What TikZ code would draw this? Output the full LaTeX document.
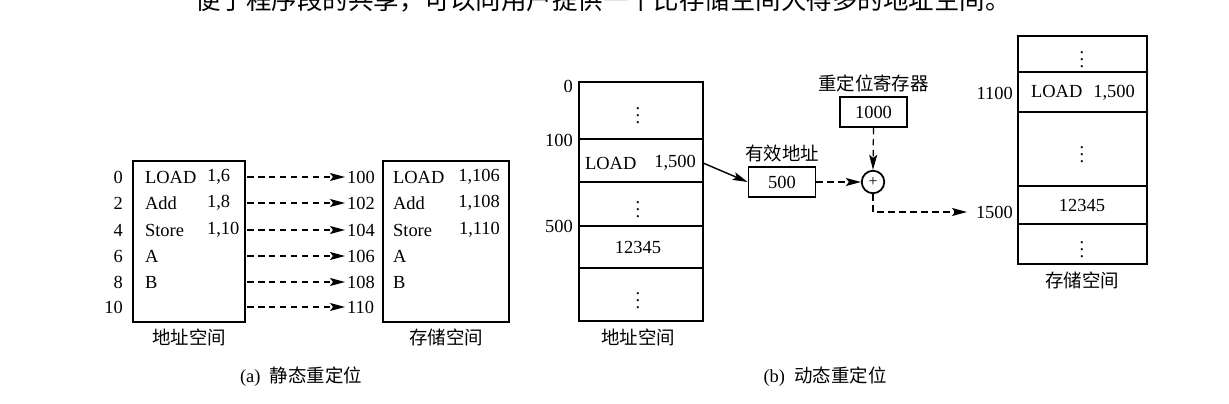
\documentclass[tikz,border=0pt]{standalone}
\usepackage{fontspec}
\setmainfont{Liberation Serif}
\newfontfamily\cjk{Noto Sans CJK SC}
\usetikzlibrary{arrows.meta}
\usetikzlibrary{positioning}

\tikzset{
  membox/.style={draw=black,line width=1pt},
  cjktext/.style={font=\cjk\fontsize{10.5}{12}\selectfont},
  maplink/.style={line width=0.7pt,dash pattern=on 1.3mm off 0.9mm,-{Stealth[length=3mm,width=1.6mm,inset=0.6mm]}},
  eabox/.style={membox,minimum width=1.34cm,minimum height=0.6cm,inner sep=0pt},
  dotrow/.style={inner sep=0pt}
}

\begin{document}
\begin{tikzpicture}[x=0.02cm,y=-0.02cm,every node/.style={font=\fontsize{10.5}{12}\selectfont,inner sep=1pt}]
\useasboundingbox (0,0) rectangle (1229,404);

% body text line, cut off at the top
\node[font=\cjk\fontsize{14.5}{16}\selectfont,anchor=base] (head) at (603,10) {便于程序段的共享，可以向用户提供一个比存储空间大得多的地址空间。};

% (a) static
\draw[membox] (133,161) rectangle (245,322);
\draw[membox] (383,161) rectangle (509,322);
\foreach \y/\n [count=\k] in {177/0,203/2,230/4,256/6,282/8,307/10}{
  \pgfmathtruncatemacro\m{100+\n}
  \node[anchor=east] (va\k) at (125,\y) {\n};
  \node[anchor=west] (pa\k) at (345,\y) {\m};
  \coordinate (s\k) at (247,\y);
  \draw[maplink] (s\k) -- (pa\k.west);
}
\foreach \y/\op/\arg/\parg [count=\k] in {177/LOAD/{1,6}/{1,106},203/Add/{1,8}/{1,108},230/Store/{1,10}/{1,110}}{
  \node[anchor=west] (lop\k) at (143,\y) {\op};
  \node[anchor=west] (larg\k) at (205,\y) {\arg};
  \node[anchor=west] (pop\k) at (391,\y) {\op};
  \node[anchor=east] (parg\k) at (502,\y) {\parg};
}
\node[anchor=west] (lopa) at (143,256) {A};
\node[anchor=west] (lopb) at (143,282) {B};
\node[anchor=west] (popa) at (391,256) {A};
\node[anchor=west] (popb) at (391,282) {B};
\node[cjktext] (lspa) at (189,337) {地址空间};
\node[cjktext] (pspa) at (446,337) {存储空间};
\node (capa) at (301,377) {(a)\ \ {\cjk 静态重定位}};

% (b) dynamic
\draw[membox] (579,82) rectangle (703,321);
\foreach \y in {139,182,226,268} \draw[membox] (579,\y) -- (703,\y);
\node[dotrow] (ldot1) at (638,110) {$\vdots$};
\node[anchor=west] (lload) at (583,163) {LOAD};
\node[anchor=east] (larg) at (698,163) {1,500};
\node[dotrow] (ldot2) at (638,204) {$\vdots$};
\node (lval) at (638,247) {12345};
\node[dotrow] (ldot3) at (638,295) {$\vdots$};
\coordinate (lrow) at (703,163);
\node[anchor=east] (lb0) at (575,86) {0};
\node[anchor=east] (lb100) at (575,140) {100};
\node[anchor=east] (lb500) at (575,226) {500};
\node[cjktext] (lspb) at (638,337) {地址空间};

\node[eabox] (ea) at (782,182) {500};
\node[cjktext,above=1pt of ea] (ealbl) {有效地址};
\node[eabox] (rr) at (873.5,112) {1000};
\node[cjktext,above=1pt of rr] (rrlbl) {重定位寄存器};
\node[draw,circle,line width=1pt,minimum size=0.45cm,inner sep=0pt,font=\small] (add) at (873,182) {+};
\draw[line width=0.8pt,-{Stealth[length=3mm,width=1.6mm,inset=0.6mm]}] (lrow) -- (ea.west);
\draw[maplink] (ea.east) -- (add.west);
\draw[maplink] (rr.south) -- (add.north);
\coordinate (tip) at (967,212);
\draw[maplink] (add.south) |- (tip);

\draw[membox] (1018,36) rectangle (1147,264);
\foreach \y in {72,112,186,224} \draw[membox] (1018,\y) -- (1147,\y);
\node[dotrow] (rdot1) at (1082,54) {$\vdots$};
\node (rload) at (1083,93) {LOAD\hspace{0.6em}1,500};
\node[dotrow] (rdot2) at (1082,149) {$\vdots$};
\node (rval) at (1082,205) {12345};
\node[dotrow] (rdot3) at (1082,244) {$\vdots$};
\node[anchor=east] (rb1100) at (1015,93) {1100};
\node[anchor=east] (rb1500) at (1015,212) {1500};
\node[cjktext] (pspb) at (1082,280) {存储空间};
\node (capb) at (825,377) {(b)\ \ {\cjk 动态重定位}};

\end{tikzpicture}
\end{document}
